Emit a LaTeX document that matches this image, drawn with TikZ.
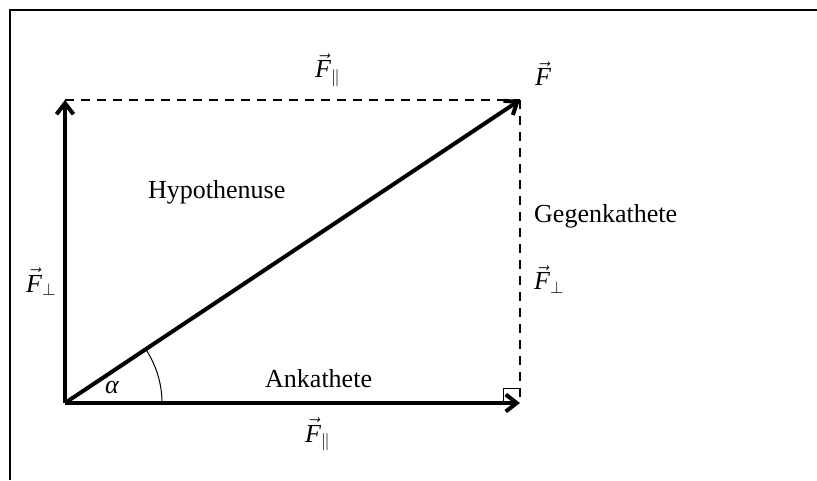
\documentclass[tikz,border=0pt]{standalone}
\usepackage{amsmath}
\usepackage{fontspec}
\setmainfont{Liberation Serif}
\usetikzlibrary{arrows.meta}
\newcommand\Fvec{\ensuremath{\vec{\mbox{\itshape F}}}}
\tikzset{
  lbl/.style={anchor=base west, inner sep=0pt, font=\fontsize{26}{30}\selectfont},
  force/.style={line width=4pt, -{Straight Barb[length=11pt,width=17pt]}},
  helper/.style={line width=1.7pt, dash pattern=on 9pt off 7pt},
  frame/.style={line width=2pt}
}
\begin{document}
\begin{tikzpicture}[x=1pt,y=1pt]
\useasboundingbox (0,0) rectangle (817,480);
\draw[frame] (10,0) -- (10,470) -- (817,470);
\coordinate (O) at (65,77);
\coordinate (A) at (65,380);
\coordinate (B) at (520,77);
\coordinate (C) at (520,380);
\coordinate (arcstart) at (162,77);
\draw[helper] (A) -- (C);
\draw[helper] (C) -- (B);
\draw[line width=1pt] (503,77) -- (503,92) -- (519,92);
\draw[force] (O) -- (A);
\draw[force] (O) -- (B);
\draw[force] (O) -- (C);
\draw[line width=1pt] (arcstart) arc[start angle=0, end angle=33.66, radius=97];
\node[lbl] (fpartop) at (315,402) {\Fvec$_\parallel$};
\node[lbl] (ftop) at (535,394) {\Fvec};
\node[lbl] (hyp) at (148,281) {Hypothenuse};
\node[lbl] (gk) at (534,257) {Gegenkathete};
\node[lbl] (fperpr) at (534,190) {\Fvec$_\perp$};
\node[lbl] (fperpl) at (26,188) {\Fvec$_\perp$};
\node[lbl] (alpha) at (105,87) {\itshape α};
\node[lbl] (ank) at (265,93) {Ankathete};
\node[lbl] (fparbot) at (305,38) {\Fvec$_\parallel$};
\end{tikzpicture}
\end{document}
